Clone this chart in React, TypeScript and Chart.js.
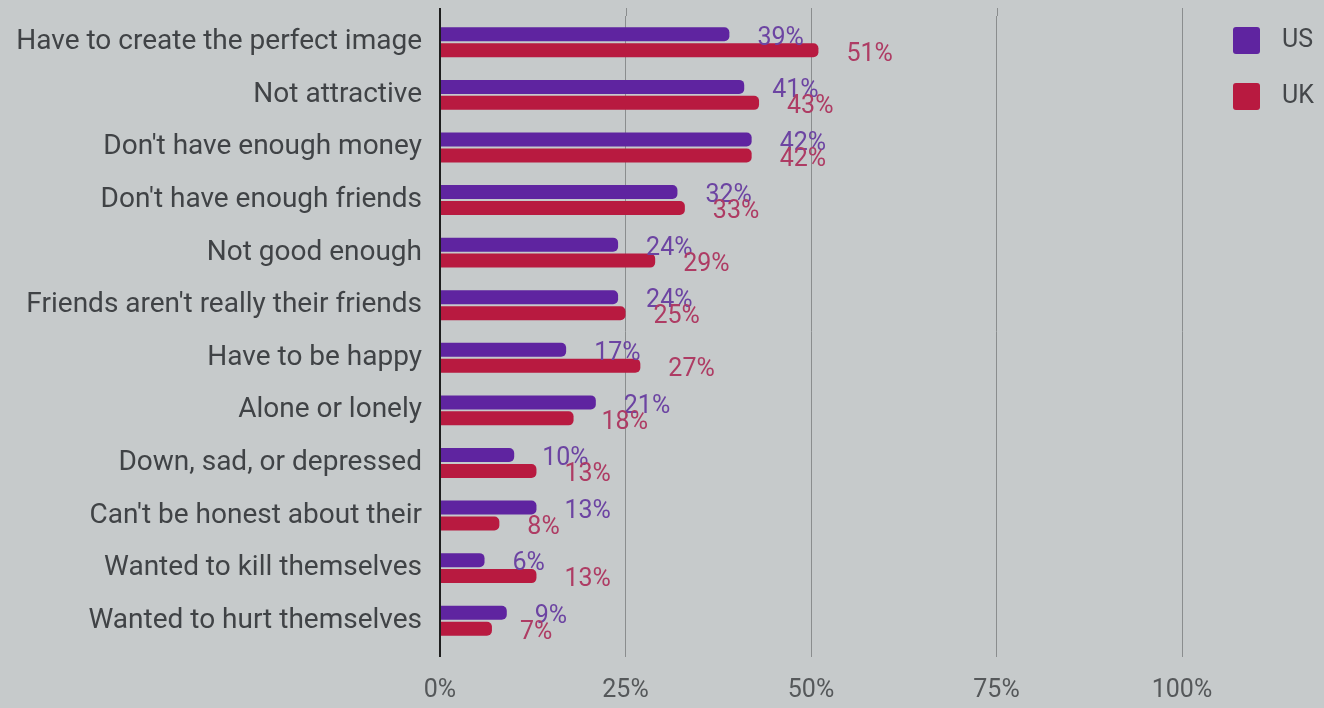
import React, { useEffect, useRef } from 'react';
import { Chart, registerables } from 'chart.js';

Chart.register(...registerables);

const categories = [
  'Have to create the perfect image',
  'Not attractive',
  "Don't have enough money",
  "Don't have enough friends",
  'Not good enough',
  "Friends aren't really their friends",
  'Have to be happy',
  'Alone or lonely',
  'Down, sad, or depressed',
  "Can't be honest about their",
  'Wanted to kill themselves',
  'Wanted to hurt themselves',
];
const usValues = [39, 41, 42, 32, 24, 24, 17, 21, 10, 13, 6, 9];
const ukValues = [51, 43, 42, 33, 29, 25, 27, 18, 13, 8, 13, 7];
const seriesNames = ['US', 'UK'];
const xTickValues = [0, 25, 50, 75, 100];

const BG = '#c6cacb';
const US_COLOR = '#5f24a0';
const UK_COLOR = '#b81a40';
const US_LABEL = '#6c44a2';
const UK_LABEL = '#ae3c64';
const FONT = 'Roboto, "Noto Sans", sans-serif';

const bgPlugin = {
  id: 'bg',
  beforeDraw(chart: any) {
    const { ctx, width, height } = chart;
    ctx.save();
    ctx.fillStyle = BG;
    ctx.fillRect(0, 0, width, height);
    ctx.restore();
  },
};

const gridExtendPlugin = {
  id: 'gridExtend',
  beforeDatasetsDraw(chart: any) {
    const { ctx, chartArea } = chart;
    const xs = chart.scales.x;
    ctx.save();
    xTickValues.forEach((v) => {
      const px = Math.round(xs.getPixelForValue(v)) + (v === 0 ? 0 : 0.5);
      ctx.beginPath();
      ctx.strokeStyle = v === 0 ? '#1e1e1e' : '#8a8d8e';
      ctx.lineWidth = v === 0 ? 2 : 1;
      ctx.moveTo(px, 0);
      ctx.lineTo(px, chartArea.top);
      ctx.stroke();
    });
    ctx.restore();
  },
};

const valueLabelPlugin = {
  id: 'valueLabels',
  afterDatasetsDraw(chart: any) {
    const { ctx } = chart;
    ctx.save();
    ctx.font = `25px ${FONT}`;
    ctx.textAlign = 'left';
    ctx.textBaseline = 'middle';
    chart.data.datasets.forEach((ds: any, di: number) => {
      const meta = chart.getDatasetMeta(di);
      ctx.fillStyle = di === 0 ? US_LABEL : UK_LABEL;
      meta.data.forEach((el: any, i: number) => {
        ctx.fillText(`${ds.data[i]}%`, el.x + 28, el.y + 4);
      });
    });
    ctx.restore();
  },
};

const legendPlugin = {
  id: 'customLegend',
  afterDraw(chart: any) {
    const { ctx } = chart;
    const colors = [US_COLOR, UK_COLOR];
    ctx.save();
    seriesNames.forEach((name, i) => {
      const y = 19 + i * 56;
      ctx.fillStyle = colors[i];
      ctx.beginPath();
      (ctx as any).roundRect(1225, y, 27, 27, 3);
      ctx.fill();
      ctx.fillStyle = '#44474a';
      ctx.font = `25px ${FONT}`;
      ctx.textAlign = 'left';
      ctx.textBaseline = 'middle';
      ctx.fillText(name, 1274, y + 14);
    });
    ctx.restore();
  },
};

export default function App() {
  const canvasRef = useRef<HTMLCanvasElement | null>(null);

  useEffect(() => {
    document.body.style.background = BG;
    const canvas = canvasRef.current;
    if (!canvas) return;
    const chart = new Chart(canvas, {
      type: 'bar',
      data: {
        labels: categories,
        datasets: [
          {
            label: seriesNames[0],
            data: usValues,
            backgroundColor: US_COLOR,
            borderRadius: 5,
            borderSkipped: 'start',
            categoryPercentage: 0.608,
            barPercentage: 0.875,
          },
          {
            label: seriesNames[1],
            data: ukValues,
            backgroundColor: UK_COLOR,
            borderRadius: 5,
            borderSkipped: 'start',
            categoryPercentage: 0.608,
            barPercentage: 0.875,
          },
        ],
      },
      options: {
        indexAxis: 'y',
        animation: false,
        responsive: false,
        maintainAspectRatio: false,
        layout: { padding: { top: 8, right: 134, bottom: 0, left: 0 } },
        plugins: {
          legend: { display: false },
          tooltip: { enabled: false },
        },
        scales: {
          x: {
            min: 0,
            max: 100,
            afterBuildTicks: (axis: any) => {
              axis.ticks = xTickValues.map((v) => ({ value: v }));
            },
            afterFit: (scale: any) => {
              scale.height = 53;
            },
            grid: {
              display: true,
              drawOnChartArea: true,
              drawTicks: true,
              tickLength: 10,
              color: (c: any) => (c.tick && c.tick.value === 0 ? '#1e1e1e' : '#8a8d8e'),
              lineWidth: (c: any) => (c.tick && c.tick.value === 0 ? 2 : 1),
            },
            border: { display: false },
            ticks: {
              padding: 19,
              color: '#55585a',
              font: { family: FONT, size: 25 },
              callback: (v: any) => `${v}%`,
              maxRotation: 0,
            },
          },
          y: {
            afterFit: (scale: any) => {
              scale.width = 432;
              scale.paddingTop = 0;
              scale.paddingBottom = 0;
            },
            grid: { display: false },
            border: { display: false },
            ticks: {
              padding: 10,
              color: '#404346',
              font: { family: FONT, size: 28 },
              autoSkip: false,
            },
          },
        },
      },
      plugins: [bgPlugin, gridExtendPlugin, valueLabelPlugin, legendPlugin],
    });
    return () => chart.destroy();
  }, []);

  return (
    <div style={{ width: 1308, height: 692 }}>
      <canvas ref={canvasRef} width={1308} height={692} style={{ display: 'block' }} />
    </div>
  );
}
